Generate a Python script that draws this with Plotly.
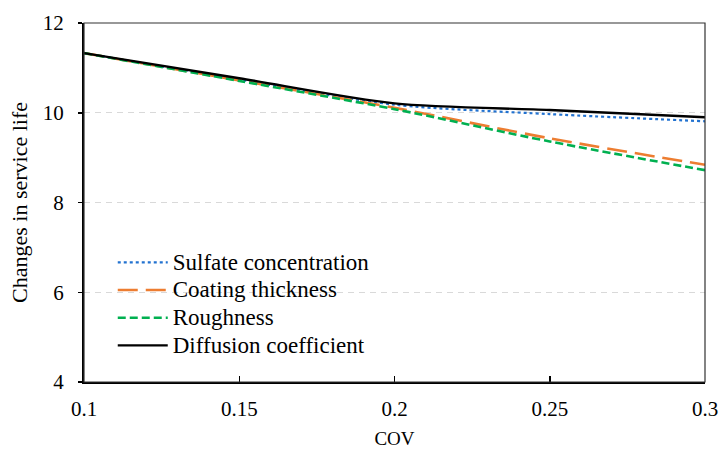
import plotly.graph_objects as go

cov = [0.1, 0.15, 0.2, 0.25, 0.3]
sulfate = [11.33, 10.74, 10.18, 9.97, 9.81]
coating = [11.33, 10.72, 10.11, 9.43, 8.84]
roughness = [11.33, 10.71, 10.08, 9.36, 8.72]
diffusion = [11.33, 10.77, 10.21, 10.06, 9.90]

series_names = ["Sulfate concentration", "Coating thickness", "Roughness", "Diffusion coefficient"]
x_ticks = [0.1, 0.15, 0.2, 0.25, 0.3]
x_ticklabels = ["0.1", "0.15", "0.2", "0.25", "0.3"]
y_ticks = [4, 6, 8, 10, 12]

FONT = "Liberation Serif"


def leg(name):
    return "<span style='font-size:23px'>" + name + "</span>"


fig = go.Figure()
fig.add_trace(go.Scatter(x=cov, y=sulfate, mode="lines", name=leg(series_names[0]),
                         line=dict(color="#2272D0", width=2.2, dash="dot", shape="spline", smoothing=0.8)))
fig.add_trace(go.Scatter(x=cov, y=coating, mode="lines", name=leg(series_names[1]),
                         line=dict(color="#ED7D31", width=2.6, dash="20px,8px", shape="spline", smoothing=0.8)))
fig.add_trace(go.Scatter(x=cov, y=roughness, mode="lines", name=leg(series_names[2]),
                         line=dict(color="#00B050", width=2.6, dash="8px,4px", shape="spline", smoothing=0.8)))
fig.add_trace(go.Scatter(x=cov, y=diffusion, mode="lines", name=leg(series_names[3]),
                         line=dict(color="black", width=2.4, shape="spline", smoothing=0.8)))

fig.update_layout(
    width=719, height=450,
    margin=dict(l=84, r=14, t=23, b=68),
    paper_bgcolor="white", plot_bgcolor="white",
    font=dict(family=FONT, color="black", size=21),
    showlegend=True,
    legend=dict(x=0.0463, y=0.386, xanchor="left", yanchor="top",
                bgcolor="rgba(0,0,0,0)", font=dict(size=19, family=FONT),
                itemwidth=50, tracegroupgap=0),
    shapes=[dict(type="rect", xref="paper", yref="paper", x0=0, y0=0, x1=1, y1=1,
                 line=dict(color="#333333", width=1.2), fillcolor="rgba(0,0,0,0)", layer="above")],
)
fig.update_xaxes(
    range=[0.1, 0.3], tickvals=x_ticks, ticktext=x_ticklabels,
    ticks="inside", ticklen=6, tickwidth=1.5, tickcolor="black",
    showline=True, linecolor="black", linewidth=2,
    showgrid=False, zeroline=False, automargin=False,
    tickfont=dict(size=21, family=FONT), ticklabelstandoff=7,
    title=dict(text="COV", font=dict(size=19, family=FONT), standoff=11),
)
fig.update_yaxes(
    range=[4, 12], tickvals=y_ticks,
    ticks="outside", ticklen=4, tickwidth=1.5, tickcolor="black",
    showline=True, linecolor="black", linewidth=2,
    showgrid=True, gridcolor="#D9D9D9", griddash="6px,5px", gridwidth=1,
    zeroline=False, automargin=False,
    tickfont=dict(size=21, family=FONT), ticklabelstandoff=10,
    title=dict(text="Changes in service life", font=dict(size=22, family=FONT), standoff=9),
)

# remove the default 8px page margin so the figure fills the window exactly
fig.write_html("out.html", config={"displayModeBar": False, "staticPlot": True},
               post_script="document.body.style.margin='0';document.body.style.overflow='hidden';")
